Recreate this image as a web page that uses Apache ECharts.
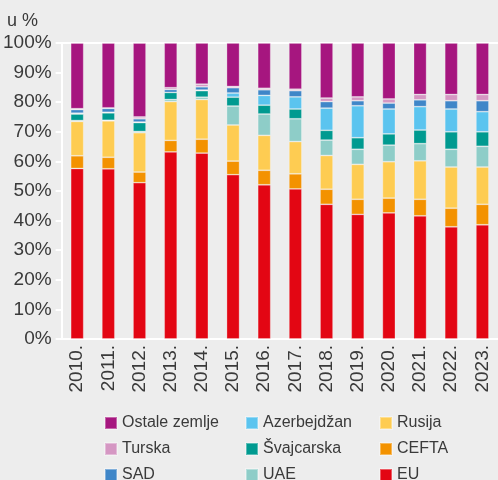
<!DOCTYPE html>
<html>
<head>
<meta charset="utf-8">
<script src="https://cdn.jsdelivr.net/npm/echarts@6/dist/echarts.min.js"></script>
<style>
  html, body { margin: 0; padding: 0; background: #ededed; }
  #main { width: 498px; height: 480px; }
</style>
</head>
<body>
<div id="main"></div>
<script>
var years = ['2010.', '2011.', '2012.', '2013.', '2014.', '2015.', '2016.', '2017.', '2018.', '2019.', '2020.', '2021.', '2022.', '2023.'];
var y_ticks = [0, 10, 20, 30, 40, 50, 60, 70, 80, 90, 100];

// udjeli u %, od dna stuba ka vrhu
var eu          = [57.6, 57.5, 52.8, 63.2, 62.8, 55.5, 52.1, 50.7, 45.5, 42.1, 42.6, 41.6, 37.9, 38.6];
var cefta       = [4.3, 3.9, 3.6, 3.9, 4.7, 4.6, 4.9, 5.1, 5.1, 5.1, 5.0, 5.6, 6.3, 6.9];
var rusija      = [11.6, 12.3, 13.3, 13.1, 13.4, 12.2, 11.8, 10.9, 11.4, 11.8, 12.3, 13.0, 13.9, 12.6];
var uae         = [0.3, 0.2, 0.4, 0.7, 0.8, 6.4, 7.2, 7.7, 5.2, 5.1, 5.6, 5.8, 6.0, 7.0];
var svajcarska  = [2.2, 2.5, 3.0, 2.4, 2.2, 3.0, 3.0, 3.3, 3.3, 3.9, 3.8, 4.6, 5.9, 4.9];
var azerbejdzan = [0.3, 0.2, 0.2, -0.3, 0.2, 1.4, 3.3, 4.1, 7.5, 10.8, 8.4, 7.9, 7.7, 6.8];
var sad         = [1.2, 1.3, 1.1, 1.0, 1.1, 1.8, 1.9, 2.1, 2.2, 1.7, 2.0, 2.3, 2.8, 3.7];
var turska      = [0.3, 0.2, 0.6, 0.6, 0.9, 0.4, 0.5, 0.5, 1.2, 1.3, 1.4, 1.8, 2.1, 2.1];
var ostale      = [22.2, 21.9, 25.0, 15.1, 13.9, 14.7, 15.3, 15.6, 18.6, 18.2, 18.9, 17.4, 17.4, 17.4];

var FONT = '"Liberation Sans", sans-serif';
var TXT = '#3a3a3a';

var parts = [
    {name: 'EU', data: eu, color: '#e30613'},
    {name: 'CEFTA', data: cefta, color: '#f39200'},
    {name: 'Rusija', data: rusija, color: '#fecc52'},
    {name: 'UAE', data: uae, color: '#8ecdc8'},
    {name: 'Švajcarska', data: svajcarska, color: '#009a90'},
    {name: 'Azerbejdžan', data: azerbejdzan, color: '#5bc4ef'},
    {name: 'SAD', data: sad, color: '#3f86c8'},
    {name: 'Turska', data: turska, color: '#d597c3'},
    {name: 'Ostale zemlje', data: ostale, color: '#a6167f'}
];

var series = [];
for (var i in parts) {
    series.push({
        name: parts[i].name,
        type: 'bar',
        stack: 'ukupno',
        barWidth: 13,
        data: parts[i].data,
        itemStyle: {
            color: parts[i].color,
            borderColor: 'rgba(255,255,255,0.35)',
            borderWidth: 0.8
        },
        emphasis: {disabled: true}
    });
}

function legend_col(left, names) {
    return {
        orient: 'vertical',
        left: left,
        top: 415,
        height: 200,
        padding: 0,
        itemWidth: 12,
        itemHeight: 12,
        itemGap: 10,
        icon: 'rect',
        data: names,
        textStyle: {fontFamily: FONT, fontSize: 16, color: TXT, padding: [0, 0, 0, 0]},
        selectedMode: false
    };
}

var chart = echarts.init(document.getElementById('main'), null, {renderer: 'canvas'});
chart.setOption({
    backgroundColor: '#ededed',
    animation: false,
    title: {
        text: 'u %',
        left: 7,
        top: 12,
        padding: 0,
        textStyle: {fontFamily: FONT, fontSize: 18, fontWeight: 'normal', color: TXT}
    },
    grid: {left: 59, right: -3, top: 43, bottom: 141, containLabel: false},
    legend: [
        legend_col(104, ['Ostale zemlje', 'Turska', 'SAD']),
        legend_col(245, ['Azerbejdžan', 'Švajcarska', 'UAE']),
        legend_col(379, ['Rusija', 'CEFTA', 'EU'])
    ],
    xAxis: [{
        type: 'category',
        data: years,
        axisLine: {lineStyle: {color: '#ffffff', width: 2}},
        axisTick: {show: false},
        axisLabel: {rotate: 90, margin: 6, fontFamily: FONT, fontSize: 19, color: TXT, interval: 0}
    }, {
        type: 'category',
        data: years,
        position: 'top',
        axisLine: {lineStyle: {color: '#ffffff', width: 2}},
        axisTick: {show: false},
        axisLabel: {show: false}
    }],
    yAxis: {
        type: 'value',
        min: y_ticks[0],
        max: y_ticks[y_ticks.length - 1],
        interval: 10,
        axisLine: {show: true, lineStyle: {color: '#ffffff', width: 2}},
        axisTick: {show: true, length: 6, lineStyle: {color: '#ffffff', width: 2}},
        splitLine: {show: false},
        axisLabel: {formatter: '{value}%', margin: 10, fontFamily: FONT, fontSize: 19, color: TXT}
    },
    series: series
});
</script>
</body>
</html>
